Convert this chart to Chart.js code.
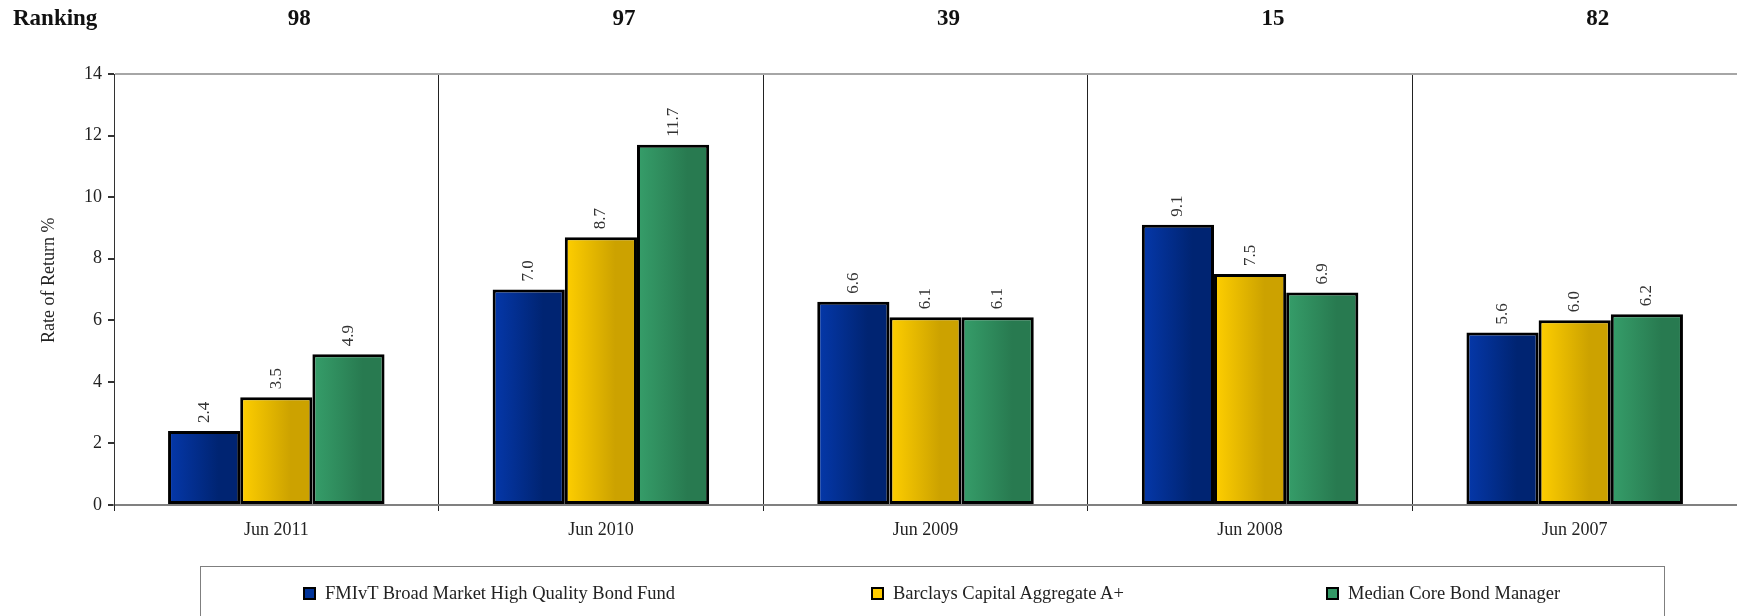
<!DOCTYPE html>
<html lang="en">
<head>
<meta charset="UTF-8">
<title>Rate of Return – Ranking</title>
<script src="https://cdn.jsdelivr.net/npm/chart.js@4"></script>
<style>
  html, body { margin: 0; padding: 0; background: #fff; }
  .wrap { position: relative; width: 1737px; height: 616px; overflow: hidden;
          font-family: 'Liberation Serif', 'DejaVu Serif', serif; color: #222; }
  #chart { position: absolute; left: 0; top: 0; }
  .legend { position: absolute; left: 200px; top: 566px; width: 1465px; height: 70px;
            border: 1px solid #7f7f7f; box-sizing: border-box; }
  .legend .item { position: absolute; top: 16px; font-size: 18.5px; line-height: 20px;
                  white-space: nowrap; display: flex; align-items: center; }
  .legend .sw { width: 9px; height: 9px; border: 2px solid #000; margin-right: 9px; }
</style>
</head>
<body>
<div class="wrap">
  <canvas id="chart" width="1737" height="616"></canvas>
  <div class="legend" id="legend"></div>
</div>

<script>
// ---------------------------------------------------------------------------
// Data
// ---------------------------------------------------------------------------
const categories = ['Jun 2011', 'Jun 2010', 'Jun 2009', 'Jun 2008', 'Jun 2007'];
const rankings   = ['98', '97', '39', '15', '82'];

const seriesNames = [
  'FMIvT Broad Market High Quality Bond Fund',
  'Barclays Capital Aggregate A+',
  'Median Core Bond Manager',
];
const fundValues   = [2.4, 7.0, 6.6, 9.1, 5.6];
const barclaysVals = [3.5, 8.7, 6.1, 7.5, 6.0];
const medianVals   = [4.9, 11.7, 6.1, 6.9, 6.2];

const yTicks = [0, 2, 4, 6, 8, 10, 12, 14];

// ---------------------------------------------------------------------------
// Styling
// ---------------------------------------------------------------------------
const FONT = "'Liberation Serif', 'DejaVu Serif', serif";
const CAT_PCT = 0.667;

// left / right gradient stops for each series
const palette = [
  { light: '#0538aa', dark: '#002472', swatch: '#003399' },  // blue
  { light: '#ffcf00', dark: '#cca200', swatch: '#ffcc00' },  // gold
  { light: '#369e6a', dark: '#287a50', swatch: '#339966' },  // green
];

// swap each bar's flat fill for a left -> right gradient, using the bar's
// own position as laid out by Chart.js
const barShading = {
  id: 'barShading',
  beforeDatasetsDraw(chart) {
    const c = chart.ctx;
    chart.data.datasets.forEach((ds, di) => {
      const pal = palette[di];
      chart.getDatasetMeta(di).data.forEach((el) => {
        const left = el.x - el.width / 2;
        const g = c.createLinearGradient(left, 0, left + el.width, 0);
        g.addColorStop(0, pal.light);
        g.addColorStop(0.7, pal.dark);
        g.addColorStop(1, pal.dark);
        el.options = Object.assign({}, el.options, { backgroundColor: g });
      });
    });
  }
};

// values above the bars, rotated
const valueLabels = {
  id: 'valueLabels',
  afterDatasetsDraw(chart) {
    const c = chart.ctx;
    c.save();
    c.font = `17px ${FONT}`;
    c.fillStyle = '#333';
    c.textAlign = 'left';
    c.textBaseline = 'middle';
    chart.data.datasets.forEach((ds, di) => {
      chart.getDatasetMeta(di).data.forEach((el, i) => {
        c.save();
        c.translate(el.x, el.y - 8);
        c.rotate(-Math.PI / 2);
        c.fillText(ds.data[i].toFixed(1), 0, 0);
        c.restore();
      });
    });
    c.restore();
  }
};

// "Ranking" row over the plot, plus the y axis caption (sits a little above
// the middle of the axis in the original, so it is drawn here)
const rankingRow = {
  id: 'rankingRow',
  afterDraw(chart) {
    const c = chart.ctx;
    const xs = chart.scales.x;
    c.save();
    c.font = `bold 23px ${FONT}`;
    c.fillStyle = '#111';
    c.textBaseline = 'middle';
    c.textAlign = 'left';
    c.fillText('Ranking', 13, 19);
    c.textAlign = 'center';
    rankings.forEach((r, i) => c.fillText(r, xs.getPixelForValue(i) + 23, 19));

    const ys = chart.scales.y;
    c.font = `18px ${FONT}`;
    c.fillStyle = '#222';
    c.translate(49, ys.getPixelForValue(7.3));
    c.rotate(-Math.PI / 2);
    c.fillText('Rate of Return %', 0, 0);
    c.restore();
  }
};

const chartDatasets = [fundValues, barclaysVals, medianVals].map((vals, i) => ({
  label: seriesNames[i],
  data: vals,
  backgroundColor: palette[i].swatch,
  borderColor: '#000',
  borderWidth: 3,
  borderSkipped: false,
  barPercentage: 1.0,
  categoryPercentage: CAT_PCT,
}));

new Chart(document.getElementById('chart'), {
  type: 'bar',
  data: { labels: categories, datasets: chartDatasets },
  options: {
    responsive: false,
    animation: false,
    layout: { padding: { top: 74, left: 0, right: 0, bottom: 66 } },
    plugins: {
      legend: { display: false },
      tooltip: { enabled: false },
    },
    scales: {
      x: {
        offset: true,
        grid: {
          offset: true,
          color: '#222',
          lineWidth: 1,
          tickLength: 6,
          tickColor: '#222',
        },
        border: { color: '#808080', width: 2 },
        ticks: { color: '#222', font: { family: FONT, size: 18 }, padding: 8 },
        afterFit: (s) => { s.height = 45; },
      },
      y: {
        min: 0,
        max: 14,
        afterBuildTicks: (s) => { s.ticks = yTicks.map(v => ({ value: v })); },
        grid: {
          color: (ctx) => ctx.tick && ctx.tick.value === 14 ? '#a6a6a6' : 'rgba(0,0,0,0)',
          lineWidth: 2,
          tickColor: '#333',
          tickLength: 6,
        },
        border: { color: '#333', width: 1 },
        ticks: { color: '#222', font: { family: FONT, size: 18 }, padding: 6 },
        afterFit: (s) => { s.width = 114; },
      },
    },
  },
  plugins: [barShading, valueLabels, rankingRow],
});

// HTML legend with a frame, as in the original
const legendX = [102, 670, 1125];   // offsets inside the legend box
const legendEl = document.getElementById('legend');
seriesNames.forEach((name, i) => {
  const item = document.createElement('div');
  item.className = 'item';
  item.style.left = legendX[i] + 'px';
  item.innerHTML = `<span class="sw" style="background:${palette[i].swatch}"></span><span>${name}</span>`;
  legendEl.appendChild(item);
});
</script>
</body>
</html>
